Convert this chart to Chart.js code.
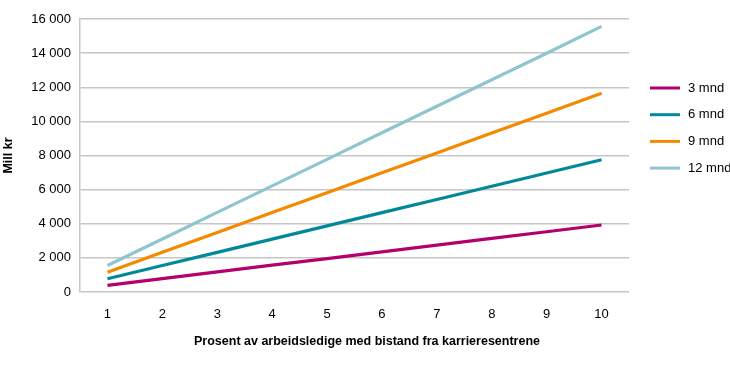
<!DOCTYPE html>
<html>
<head>
<meta charset="utf-8">
<script src="https://cdn.jsdelivr.net/npm/chart.js@4/dist/chart.umd.min.js"></script>
<style>
  html, body { margin: 0; padding: 0; background: #fff; }
  #wrap { width: 730px; height: 365px; }
</style>
</head>
<body>
<div id="wrap"><canvas id="lineChart" width="730" height="365"></canvas></div>
<script>
// categories and series
const categories = ['1', '2', '3', '4', '5', '6', '7', '8', '9', '10'];
const seriesNames = ['3 mnd', '6 mnd', '9 mnd', '12 mnd'];
const mnd3 = [390, 785, 1175, 1570, 1960, 2355, 2745, 3140, 3530, 3925];
const mnd6 = [775, 1550, 2325, 3100, 3875, 4650, 5425, 6200, 6975, 7750];
const mnd9 = [1160, 2330, 3490, 4660, 5820, 6990, 8150, 9320, 10480, 11650];
const mnd12 = [1555, 3110, 4665, 6220, 7775, 9330, 10885, 12440, 13995, 15570];
const yTicks = [0, 2000, 4000, 6000, 8000, 10000, 12000, 14000, 16000];
const colors = ['#b3006c', '#00899a', '#f48a00', '#8fc5cf'];
const xTitle = 'Prosent av arbeidsledige med bistand fra karrieresentrene';

const fontName = "'Liberation Sans', Arial, sans-serif";

function fmt(v) {
  // thousands separated by a space, like "16 000"
  return String(v).replace(/\B(?=(\d{3})+(?!\d))/g, ' ');
}

// legend on the right + x title centred on the whole picture, drawn by hand
const sideLegend = {
  id: 'sideLegend',
  afterDraw(chart) {
    const c = chart.ctx;
    c.save();
    c.font = '13px ' + fontName;
    c.textBaseline = 'middle';
    c.fillStyle = '#000';
    chart.data.datasets.forEach((ds, i) => {
      const y = 88 + i * 26.7;
      c.strokeStyle = ds.borderColor;
      c.lineWidth = 3;
      c.beginPath();
      c.moveTo(650, y);
      c.lineTo(680, y);
      c.stroke();
      c.fillText(ds.label, 688, y);
    });
    c.font = 'bold 12.5px ' + fontName;
    c.textAlign = 'center';
    c.fillText(xTitle, 367, 342);
    c.restore();
  }
};

const seriesData = [mnd3, mnd6, mnd9, mnd12];
const datasets = seriesNames.map((name, i) => ({
  label: name,
  data: seriesData[i],
  borderColor: colors[i],
  backgroundColor: colors[i],
  borderWidth: 3.2,
  pointRadius: 0,
  tension: 0,
  fill: false
}));

const ctx = document.getElementById('lineChart').getContext('2d');
new Chart(ctx, {
  type: 'line',
  data: { labels: categories, datasets: datasets },
  options: {
    responsive: false,
    animation: false,
    devicePixelRatio: 1,
    layout: { padding: { top: 19, right: 101, left: 0, bottom: 0 } },
    plugins: {
      legend: { display: false },
      tooltip: { enabled: false }
    },
    scales: {
      x: {
        offset: true,
        grid: { display: false, drawTicks: false },
        border: { display: false },
        ticks: { padding: 15, color: '#000', font: { family: fontName, size: 13 } },
        afterFit(scale) { scale.height = 73; }
      },
      y: {
        min: 0,
        max: 16000,
        afterBuildTicks(scale) { scale.ticks = yTicks.map(v => ({ value: v })); },
        grid: { color: '#c6c6c6', lineWidth: 1.5, drawTicks: false },
        border: { display: true, color: '#c6c6c6', width: 1.5 },
        ticks: {
          padding: 9,
          color: '#000',
          font: { family: fontName, size: 13 },
          callback: v => fmt(v)
        },
        title: {
          display: true,
          text: 'Mill kr',
          color: '#000',
          font: { family: fontName, size: 12.5, weight: 'bold' },
          padding: { top: 1, bottom: 0 }
        },
        afterFit(scale) { scale.width = 80; }
      }
    }
  },
  plugins: [sideLegend]
});
</script>
</body>
</html>
